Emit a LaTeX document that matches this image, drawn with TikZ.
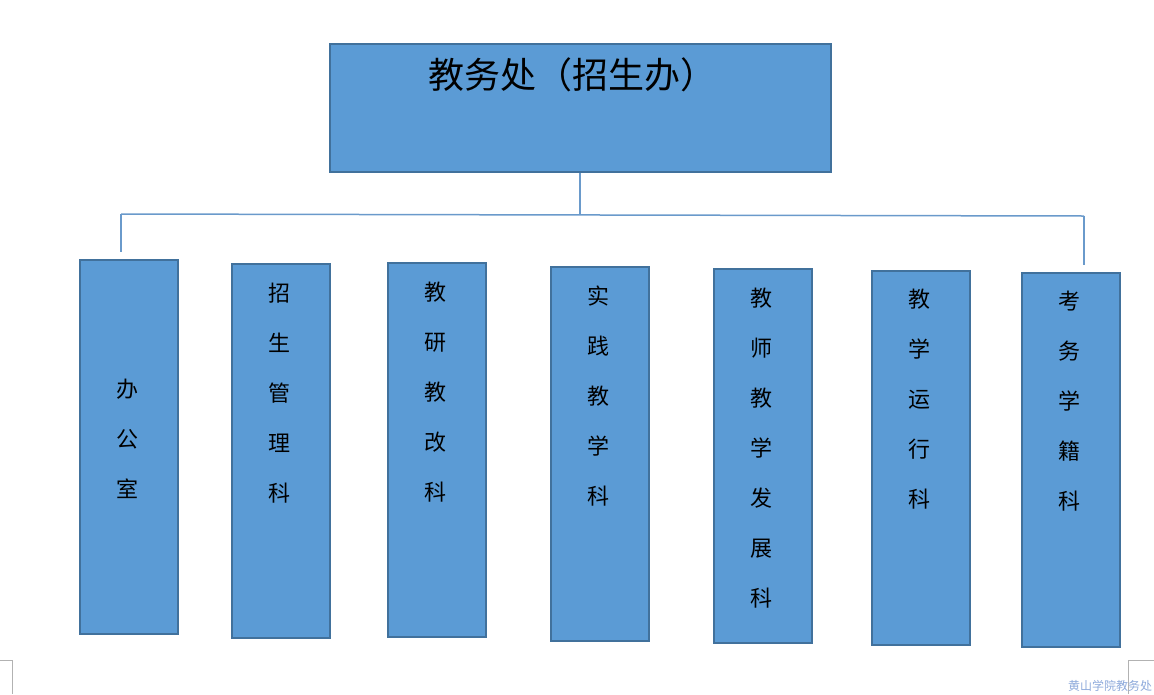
\documentclass[tikz,border=0pt]{standalone}
\usepackage{fontspec}
\setmainfont{Noto Sans CJK SC}
\usetikzlibrary{positioning}
\definecolor{boxfill}{HTML}{5B9BD5}
\definecolor{boxline}{HTML}{41719C}
\definecolor{busline}{HTML}{6A9ACB}
\definecolor{footblue}{HTML}{8EAADB}
\tikzset{
dept/.style={fill=boxfill, draw=boxline, line width=2pt, minimum width=98pt, minimum height=374pt, anchor=north west, inner sep=0pt},
depttext/.style={anchor=north, align=center, inner sep=0pt, font=\fontsize{22}{50}\selectfont},
bus/.style={draw=busline, line width=1.5pt},
corner/.style={draw=gray!60, line width=0.8pt}
}

\begin{document}
\begin{tikzpicture}[x=1pt, y=-1pt]
\useasboundingbox (0,0) rectangle (1154,694);
% top box
\node[fill=boxfill, draw=boxline, line width=2pt, minimum width=501pt, minimum height=128pt, anchor=north west, inner sep=0pt] (head) at (329,43) {};
\node[font=\fontsize{36}{40}\selectfont, inner sep=0pt] (headtext) at (572,75) {教务处（招生办）};
% departments
\node[dept] (d1) at (79,259) {};
\node[dept] (d2) at (231,263) {};
\node[dept] (d3) at (387,262) {};
\node[dept] (d4) at (550,266) {};
\node[dept] (d5) at (713,268) {};
\node[dept] (d6) at (871,270) {};
\node[dept] (d7) at (1021,272) {};
\node[depttext] (t1) at (127,379) {办\\公\\室};
\node[depttext] (t2) at (279,283) {招\\生\\管\\理\\科};
\node[depttext] (t3) at (435,282) {教\\研\\教\\改\\科};
\node[depttext] (t4) at (598,286) {实\\践\\教\\学\\科};
\node[depttext] (t5) at (761,288) {教\\师\\教\\学\\发\\展\\科};
\node[depttext] (t6) at (919,289) {教\\学\\运\\行\\科};
\node[depttext] (t7) at (1069,291) {考\\务\\学\\籍\\科};
% connectors
\coordinate (busM) at (580,214);
\coordinate (busL) at (121,214);
\coordinate (busR) at (1084,216);
\coordinate (endL) at (121,252);
\coordinate (endR) at (1084,265);
\draw[bus] (head.south -| busM) -- (busM);
\draw[bus] (busL) -- (busR);
\draw[bus] (busL) -- (endL);
\draw[bus] (busR) -- (endR);
% page corners and footer
\draw[corner] (0,660) -- (12,660) -- (12,694);
\draw[corner] (1154,660) -- (1128,660) -- (1128,694);
\node[anchor=north west, inner sep=0pt, text=footblue, font=\fontsize{12}{14}\selectfont] (foot) at (1068,680) {黄山学院教务处};
\end{tikzpicture}
\end{document}
